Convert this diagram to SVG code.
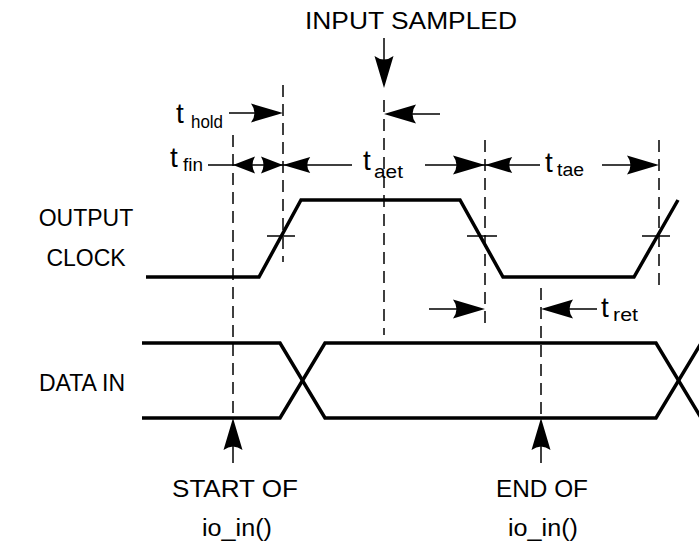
<svg xmlns="http://www.w3.org/2000/svg" xmlns:xlink="http://www.w3.org/1999/xlink" width="699" height="541" viewBox="0 0 699 541">
<style>
text{font-family:"Liberation Sans",Arial,sans-serif;fill:#000}
.lbl{font-size:23px}
.t{font-size:28px}
.sub{font-size:18px}
.wave{fill:none;stroke:#000;stroke-width:3.5;stroke-linejoin:miter}
.dash{fill:none;stroke:#000;stroke-width:1.5;stroke-dasharray:12,7}
.thin{fill:none;stroke:#000;stroke-width:1.5}
</style>
<defs>
<path id="ah" d="M0,0 L-32,-9.5 Q-25,0 -32,9.5 Z"/>
<path id="ahs" d="M0,0 L-22,-8.5 Q-17,0 -22,8.5 Z"/>
</defs>
<rect width="699" height="541" fill="#fff"/>

<g id="output-clock">
<path class="wave" d="M146,277 L259,277 L301,200 L460,200 L503,277 L634,277 L678,200"/>
<path class="thin" d="M267,236 H295 M467,236 H497 M642,236 H670"/>
<text class="lbl" x="86" y="226" text-anchor="middle">OUTPUT</text>
<text class="lbl" x="86" y="266" text-anchor="middle">CLOCK</text>
</g>

<g id="data-in">
<path class="wave" d="M142,343 L280,343 L325,418 L656,418 L703,340"/>
<path class="wave" d="M142,418 L280,418 L325,343 L656,343 L703,421"/>
<text class="lbl" x="82" y="391" text-anchor="middle">DATA IN</text>
</g>

<g id="guides">
<path class="dash" d="M233,135 V418"/>
<path class="dash" d="M283,85 V262"/>
<path class="dash" d="M384,100 V335"/>
<path class="dash" d="M485,140 V330"/>
<path class="dash" d="M659,140 V290"/>
<path class="dash" d="M541,288 V418"/>
</g>

<g id="connectors">
<path class="thin" d="M384,38 V80"/>
<use href="#ah" transform="translate(384,88) rotate(90)"/>
<path class="thin" d="M440,114 H395"/>
<use href="#ah" transform="translate(384,114) rotate(180)"/>
<path class="thin" d="M229,113 H270"/>
<use href="#ah" transform="translate(283,113)"/>
<path class="thin" d="M208,165 H352 M425,165 H540 M602,165 H650"/>
<use href="#ahs" transform="translate(233,165) rotate(180)"/>
<use href="#ahs" transform="translate(283,165)"/>
<use href="#ah" transform="translate(283,165) rotate(180) scale(0.85)"/>
<use href="#ah" transform="translate(485,165)"/>
<use href="#ah" transform="translate(485,165) rotate(180) scale(0.85)"/>
<use href="#ah" transform="translate(659,165)"/>
<path class="thin" d="M429,309 H470 M597,309 H555"/>
<use href="#ah" transform="translate(485,309)"/>
<use href="#ah" transform="translate(541,309) rotate(180)"/>
<path class="thin" d="M233,463 V430"/>
<use href="#ah" transform="translate(233,418) rotate(-90)"/>
<path class="thin" d="M541,463 V430"/>
<use href="#ah" transform="translate(541,418) rotate(-90)"/>
</g>

<g id="labels">
<text class="lbl" x="305" y="29" textLength="212" lengthAdjust="spacingAndGlyphs">INPUT SAMPLED</text>
<text class="t" x="176" y="123">t</text><text class="sub" x="191" y="128" textLength="32" lengthAdjust="spacingAndGlyphs">hold</text>
<text class="t" x="170" y="167">t</text><text class="sub" x="183" y="171" textLength="20" lengthAdjust="spacingAndGlyphs">fin</text>
<text class="t" x="363" y="170">t</text><text class="sub" x="374" y="178" textLength="29" lengthAdjust="spacingAndGlyphs">aet</text>
<text class="t" x="545" y="172">t</text><text class="sub" x="557" y="176" textLength="27" lengthAdjust="spacingAndGlyphs">tae</text>
<text class="t" x="601" y="317">t</text><text class="sub" x="613" y="321" textLength="25" lengthAdjust="spacingAndGlyphs">ret</text>
<text class="lbl" x="172" y="497" textLength="126" lengthAdjust="spacingAndGlyphs">START OF</text>
<text class="lbl" x="202" y="536" textLength="70" lengthAdjust="spacingAndGlyphs">io_in()</text>
<text class="lbl" x="496" y="497" textLength="92" lengthAdjust="spacingAndGlyphs">END OF</text>
<text class="lbl" x="508" y="536" textLength="70" lengthAdjust="spacingAndGlyphs">io_in()</text>
</g>
</svg>
